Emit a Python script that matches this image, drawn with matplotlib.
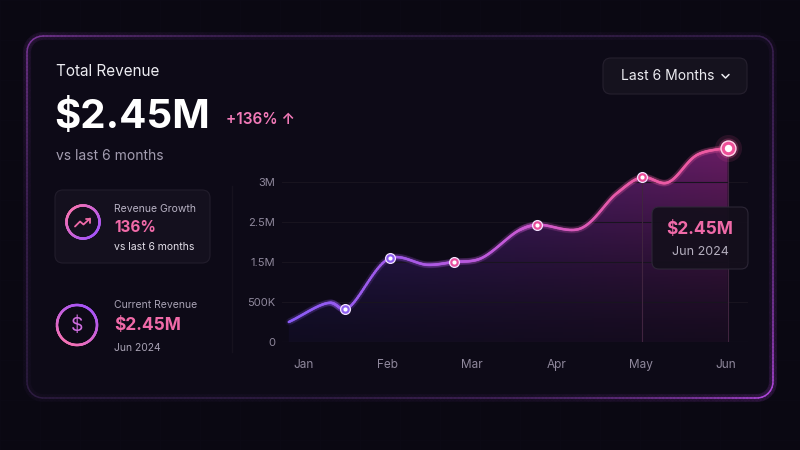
import numpy as np
import matplotlib
matplotlib.use("Agg")
import matplotlib.pyplot as plt
from matplotlib.collections import LineCollection
from matplotlib.colors import LinearSegmentedColormap, to_rgb
from matplotlib.patches import FancyBboxPatch, Polygon

# --- data ---
months = ["Jan", "Feb", "Mar", "Apr", "May", "Jun"]
# curve knots: x in month position (Jan = 0), y in millions of dollars
curve_x = [-0.17, 0.32, 0.50, 1.03, 1.47, 1.78, 2.09, 2.56, 2.77, 3.27, 3.71, 4.01, 4.30, 4.66, 5.02]
curve_y = [0.25, 0.49, 0.41, 1.60, 1.43, 1.50, 1.58, 2.30, 2.43, 2.33, 2.86, 3.06, 2.99, 3.34, 3.43]
marker_idx = [2, 3, 5, 8, 11, 14]
y_ticks = [0, 0.5, 1.5, 2.5, 3.0]
y_tick_labels = ["0", "500K", "1.5M", "2.5M", "3M"]

title = "Total Revenue"
headline = "$2.45M"
change = "+136% \u2191"
subtitle = "vs last 6 months"
growth_label, growth_value, growth_note = "Revenue Growth", "136%", "vs last 6 months"
current_label, current_value, current_note = "Current Revenue", "$2.45M", "Jun 2024"
range_label = "Last 6 Months"
tip_value, tip_note = "$2.45M", "Jun 2024"

plt.rcParams["font.family"] = ["Inter", "DejaVu Sans"]

BG = "#0a0812"
CARD = "#0d0a17"
PINK = "#f06aa8"
GREY = "#a39db0"
marker_colors = ["#9061f2", "#8d5cf0", "#e8509f", "#ea4f9c", "#ec4c98", "#ee4f98"]

# the y axis spaces its labelled ticks evenly, so map value -> tick index
_tv = np.array([-100, 0, 0.5, 1.5, 2.5, 3.0, 100])
_tt = np.array([-200, 0, 1, 2, 3, 4, 4 + 2 * 97])


def fwd(v):
    return np.interp(v, _tv, _tt)


def inv(t):
    return np.interp(t, _tt, _tv)


def catmull_rom(P, n=30, alpha=0.5):
    P = np.vstack([2 * P[0] - P[1], P, 2 * P[-1] - P[-2]])
    out = []
    for i in range(len(P) - 3):
        p0, p1, p2, p3 = P[i:i + 4]
        t0 = 0.0
        t1 = t0 + np.linalg.norm(p1 - p0) ** alpha
        t2 = t1 + np.linalg.norm(p2 - p1) ** alpha
        t3 = t2 + np.linalg.norm(p3 - p2) ** alpha
        t = np.linspace(t1, t2, n, endpoint=False)[:, None]
        A1 = (t1 - t) / (t1 - t0) * p0 + (t - t0) / (t1 - t0) * p1
        A2 = (t2 - t) / (t2 - t1) * p1 + (t - t1) / (t2 - t1) * p2
        A3 = (t3 - t) / (t3 - t2) * p2 + (t - t2) / (t3 - t2) * p3
        B1 = (t2 - t) / (t2 - t0) * A1 + (t - t0) / (t2 - t0) * A2
        B2 = (t3 - t) / (t3 - t1) * A2 + (t - t1) / (t3 - t1) * A3
        out.append((t2 - t) / (t2 - t1) * B1 + (t - t1) / (t2 - t1) * B2)
    out.append(P[-2][None, :])
    return np.vstack(out)


def rr_points(x0, y0, x1, y1, r, n=600):
    segs = []
    for (cx, cy, a0, a1) in [(x0 + r, y0 + r, 180, 270), (x1 - r, y0 + r, 270, 360),
                             (x1 - r, y1 - r, 0, 90), (x0 + r, y1 - r, 90, 180)]:
        a = np.radians(np.linspace(a0, a1, 20))
        segs.append(np.column_stack([cx + r * np.cos(a), cy + r * np.sin(a)]))
    pts = np.vstack(segs + [segs[0][:1]])
    d = np.concatenate([[0], np.cumsum(np.hypot(*np.diff(pts, axis=0).T))])
    s = np.linspace(0, d[-1], n)
    return np.column_stack([np.interp(s, d, pts[:, 0]), np.interp(s, d, pts[:, 1])])


def gradient_line(ax, pts, colors, lw, alpha=1.0, z=3):
    segs = np.stack([pts[:-1], pts[1:]], axis=1)
    lc = LineCollection(segs, colors=colors[:-1], linewidths=lw, alpha=alpha,
                        capstyle="round", zorder=z)
    ax.add_collection(lc)


def ring(ax, cx, cy, r, c1, c2, direction):
    a = np.radians(np.linspace(0, 360, 200))
    pts = np.column_stack([cx + r * np.cos(a), cy + r * np.sin(a)])
    proj = (np.cos(a) * direction[0] + np.sin(a) * direction[1] + 1) / 2
    cols = np.outer(1 - proj, to_rgb(c1)) + np.outer(proj, to_rgb(c2))
    gradient_line(ax, pts, cols, 1.8, z=4)


def box(ax, x, y, w, h, r, fc, ec, lw=0.8, alpha=1.0, z=2):
    ax.add_patch(FancyBboxPatch((x, y), w, h, boxstyle=f"round,pad=0,rounding_size={r}",
                                fc=fc, ec=ec, lw=lw, alpha=alpha, zorder=z))


fig = plt.figure(figsize=(8, 4.5), dpi=100)
fig.patch.set_facecolor(BG)

# background layer in pixel coordinates
ax_bg = fig.add_axes([0, 0, 1, 1], zorder=0)
ax_bg.set_xlim(0, 800)
ax_bg.set_ylim(450, 0)
ax_bg.axis("off")
for g in range(0, 801, 40):
    ax_bg.axvline(g, color="#0c0a15", lw=0.5, zorder=0)
for g in range(0, 451, 40):
    ax_bg.axhline(g, color="#0c0a15", lw=0.5, zorder=0)

box(ax_bg, 27, 36, 746, 362, 16, CARD, "none", z=1)
border = rr_points(27, 36, 773, 398, 16)
d1 = np.hypot(border[:, 0] - 27, border[:, 1] - 36)
d2 = np.hypot(border[:, 0] - 773, border[:, 1] - 398)
base = np.array(to_rgb("#1f1730"))
w1 = np.exp(-d1 / 160)[:, None]
w2 = np.exp(-d2 / 190)[:, None]
bcol = np.clip(base + (np.array(to_rgb("#7a3698")) - base) * w1
               + (np.array(to_rgb("#b448e0")) - base) * w2, 0, 1)
gradient_line(ax_bg, border, bcol, 6, alpha=0.08, z=1)
gradient_line(ax_bg, border, bcol, 1.1, z=2)

# --- chart ---
ax = fig.add_axes([282 / 800, (450 - 342) / 450, (748 - 282) / 800, (342 - 140) / 450], zorder=1)
ax.set_facecolor("none")
ax.set_yscale("function", functions=(fwd, inv))
ax.set_xlim(-0.25, 5.26)
ax.set_ylim(0, inv(5.05))
for s in ax.spines.values():
    s.set_visible(False)
ax.set_yticks(y_ticks)
ax.set_yticklabels(y_tick_labels)
ax.set_xticks(range(len(months)))
ax.set_xticklabels(months)
ax.tick_params(axis="y", length=0, pad=5, labelsize=8, labelcolor="#8f889c")
ax.tick_params(axis="x", length=0, pad=12, labelsize=8.5, labelcolor="#8f889c")
ax.minorticks_off()
for yt in y_ticks:
    ax.axhline(yt, color="#26202f" if yt == 0 else "#18141f", lw=0.8, zorder=0)

knots = np.column_stack([np.array(curve_x) * 84.6, fwd(np.array(curve_y)) * 40])
sm = catmull_rom(knots)
xs = sm[:, 0] / 84.6
ys = inv(sm[:, 1] / 40)

cmap = LinearSegmentedColormap.from_list("rev", ["#8b5cf6", "#a35ae8", "#c55ad8", "#e85aa8", "#ee5aa0"])
norm = plt.Normalize(curve_x[0], curve_x[-1])

# gradient fill under the curve, clipped to the area polygon
H, W = 200, 300
fx = np.linspace(0, 1, W)
fy = np.linspace(0, 1, H)[:, None]
cl, cr = np.array(to_rgb("#4630c0")), np.array(to_rgb("#b02a9a"))
img = np.zeros((H, W, 4))
img[..., :3] = (1 - fx)[None, :, None] * cl + fx[None, :, None] * cr
img[..., 3] = 0.06 + 0.55 * (1 - fy) ** 1.3
im = ax_bg.imshow(img, extent=[282, 748, 342, 140], aspect="auto",
                  interpolation="bilinear", zorder=3)
area = Polygon(np.column_stack([np.r_[xs, xs[-1], xs[0]], np.r_[ys, 0, 0]]),
               closed=True, transform=ax.transData)
im.set_clip_path(area)
ax_bg.set_xlim(0, 800)
ax_bg.set_ylim(450, 0)

pts = np.column_stack([xs, ys])
lcols = cmap(norm(xs))
gradient_line(ax, pts, lcols, 5, alpha=0.07, z=3)
gradient_line(ax, pts, lcols, 1.8, z=4)

# guide lines from May and Jun points
for i in marker_idx[-2:]:
    ax.vlines(curve_x[i], 0, curve_y[i], color="#40243f", lw=0.8, zorder=2)

for i, c in zip(marker_idx, marker_colors):
    if i == marker_idx[-1]:
        ax.scatter(curve_x[i], curve_y[i], s=380, color=c, alpha=0.12, lw=0, zorder=5, clip_on=False)
        ax.scatter(curve_x[i], curve_y[i], s=210, color=c, alpha=0.25, lw=0, zorder=5, clip_on=False)
        ax.scatter(curve_x[i], curve_y[i], s=115, color=c, ec="#ffd6ea", lw=1, zorder=6, clip_on=False)
        ax.scatter(curve_x[i], curve_y[i], s=28, color="white", lw=0, zorder=7, clip_on=False)
    else:
        ax.scatter(curve_x[i], curve_y[i], s=50, color=c, ec="#f3e4ff", lw=0.9, zorder=6, clip_on=False)
        ax.scatter(curve_x[i], curve_y[i], s=9, color="white", lw=0, zorder=7, clip_on=False)

# --- foreground overlay (text, widgets, tooltip) ---
ax_fg = fig.add_axes([0, 0, 1, 1], zorder=3)
ax_fg.set_xlim(0, 800)
ax_fg.set_ylim(450, 0)
ax_fg.axis("off")
ax_fg.patch.set_alpha(0)

ax_fg.text(56, 71, title, fontsize=11, color="#ececf1", va="center")
ax_fg.text(54, 117, headline, fontsize=29, fontweight="bold", color="white", va="center")
ax_fg.text(226, 120, change, fontsize=11, fontweight="semibold", color="#f27ab8", va="center")
ax_fg.text(56, 156, subtitle, fontsize=10, color=GREY, va="center")

# divider between kpis and chart
ax_fg.plot([232, 232], [186, 352], color="#16121e", lw=1)

# growth card
box(ax_fg, 55, 190, 155, 73, 8, "#14101e", "#221d2c")
ring(ax_fg, 83, 222, 16.5, "#f472b6", "#a855f7", (0.7, 0.7))
ax_fg.plot([75, 80, 83.5, 90], [226.5, 221.5, 224.5, 218.5], color=PINK, lw=1.3,
           solid_capstyle="round", solid_joinstyle="round", zorder=5)
ax_fg.plot([85.5, 90, 90], [218.5, 218.5, 223], color=PINK, lw=1.3,
           solid_capstyle="round", solid_joinstyle="round", zorder=5)
ax_fg.text(114, 209, growth_label, fontsize=7.5, color="#b8b2c4", va="center")
ax_fg.text(114, 228, growth_value, fontsize=11, fontweight="bold", color=PINK, va="center")
ax_fg.text(114, 247, growth_note, fontsize=7.5, color="#e4e0ea", va="center")

# current revenue
ring(ax_fg, 77, 325, 20, "#a855f7", "#f472b6", (-0.5, 0.85))
ax_fg.text(77, 326, "$", fontsize=14, color="#cf6ee0", ha="center", va="center", zorder=5)
ax_fg.text(114, 305, current_label, fontsize=7.5, color="#a8a2b4", va="center")
ax_fg.text(114, 326, current_value, fontsize=12.5, fontweight="bold", color=PINK, va="center")
ax_fg.text(114, 348, current_note, fontsize=7.5, color="#a8a2b4", va="center")

# range selector
box(ax_fg, 603, 58, 144, 36, 8, "#15121e", "#25202e")
ax_fg.text(621, 76, range_label, fontsize=10, color="#ececf1", va="center")
ax_fg.plot([722, 725.5, 729], [74.5, 78, 74.5], color="#ececf1", lw=1.1,
           solid_capstyle="round", solid_joinstyle="round")

# tooltip
box(ax_fg, 652, 207, 96, 62, 7, "#140f1c", "#2e2838", alpha=0.92, z=4)
ax_fg.text(700, 229, tip_value, fontsize=12.5, fontweight="bold", color=PINK,
           ha="center", va="center", zorder=5)
ax_fg.text(700, 252, tip_note, fontsize=9, color="#b5afbf", ha="center", va="center", zorder=5)

fig.savefig("out.png", dpi=100, facecolor=BG)
